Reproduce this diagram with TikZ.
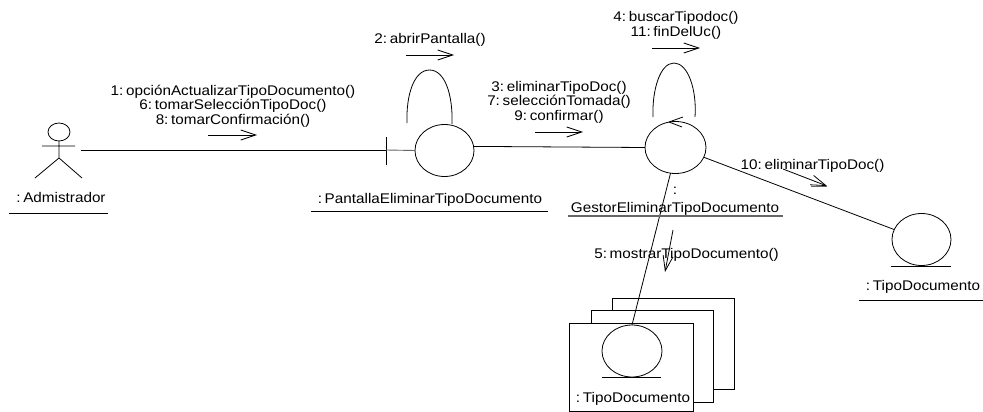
\documentclass[tikz,border=0pt]{standalone}
\usepackage{fontspec}
\setmainfont[FakeStretch=1.09,WordSpace=0.3]{Liberation Sans}
\usetikzlibrary{shapes.geometric,arrows.meta}
\tikzset{
  every node/.style={font=\fontsize{14}{14.6}\selectfont,inner sep=0pt,outer sep=0pt,align=center},
  obj/.style={draw=black,shape=ellipse,minimum width=59pt,minimum height=52pt,line width=0.8pt},
  ln/.style={draw=black,line width=0.8pt},
  rule/.style={draw=black,line width=0.8pt},
  msg/.style={draw=black,line width=0.8pt,line join=round,-{Straight Barb[length=15pt,width=10pt,line width=0.8pt]}},
  sheet/.style={draw=black,fill=white,line width=0.8pt}
}
\begin{document}
\begin{tikzpicture}[x=1pt,y=-1pt]
\useasboundingbox (0,0) rectangle (983,412);
% stacked multi-object sheets
\draw[sheet] (612,298) rectangle (734,389);
\draw[sheet] (591,310) rectangle (713,402);
\draw[sheet] (569,323) rectangle (693,411.5);
% actor
\node[draw=black,shape=ellipse,minimum width=22pt,minimum height=18pt,line width=0.8pt] (head) at (59,132) {};
\coordinate (neck) at (59,158);
\coordinate (armL) at (42,146);
\coordinate (armR) at (75,146);
\coordinate (legL) at (35,178);
\coordinate (legR) at (82,178);
\draw[ln] (head.south) -- (neck) (armL) -- (armR) (legL) -- (neck) -- (legR);
\node (adm) at (61,197) {: Admistrador};
\draw[rule] (9,213) -- (108,213);
% objects
\node[obj] (pant) at (444.5,150.5) {};
\node[obj,minimum width=61pt] (gest) at (675.5,147.5) {};
\node[obj] (ent) at (921.5,239.5) {};
\node[obj,minimum width=60pt] (multi) at (632,351) {};
\draw[rule] (891,266) -- (951,266);
\draw[rule] (602,377) -- (661,377);
% boundary tick
\coordinate (tickT) at (386,137);
\coordinate (tickB) at (386,165);
\coordinate (tickM) at (386,150);
\coordinate (actEnd) at (81,150);
\draw[ln] (tickT) -- (tickB);
% links
\draw[ln] (actEnd) -- (tickM);
\draw[draw=black!60,line width=0.9pt] (tickM) -- (pant.west);
\draw[ln] (pant.8) -- (gest.west);
\draw[ln] (gest.-19) -- (ent.160);
\draw[ln] (gest.-101) -- (multi.north);
% self loops
\coordinate (lpA) at (407,123);
\coordinate (lpB) at (429.5,70);
\coordinate (lpC) at (452,124);
\draw[ln] (lpA) .. controls (406,95) and (414,70) .. (lpB) .. controls (445,70) and (453,95) .. (lpC);
\coordinate (lgA) at (653,117);
\coordinate (lgB) at (674,63);
\coordinate (lgC) at (695,117);
\draw[ln] (lgA) .. controls (652,90) and (660,63) .. (lgB) .. controls (688,63) and (697,90) .. (lgC);
% open head on controller
\coordinate (hdA) at (683,117);
\coordinate (hdB) at (669,122);
\coordinate (hdC) at (682,127);
\draw[ln,line join=round] (hdA) -- (hdB) -- (hdC);
% message arrows
\coordinate (m1a) at (208,135); \coordinate (m1b) at (257,135);
\coordinate (m2a) at (406,55);  \coordinate (m2b) at (454,55);
\coordinate (m3a) at (535,132); \coordinate (m3b) at (583,132);
\coordinate (m4a) at (652,48);  \coordinate (m4b) at (700,48);
\coordinate (m10a) at (783,169); \coordinate (m10b) at (827,186);
\coordinate (m5a) at (673,230); \coordinate (m5b) at (665,272);
\draw[msg] (m1a) -- (m1b);
\draw[msg] (m2a) -- (m2b);
\draw[msg] (m3a) -- (m3b);
\draw[msg] (m4a) -- (m4b);
\draw[msg] (m10a) -- (m10b);
\draw[msg] (m5a) -- (m5b);
\draw[draw=black!60,line width=0.8pt] (811,186) -- (m10b);
% labels
\node (l1) at (233,106) {1: opciónActualizarTipoDocumento()\\6: tomarSelecciónTipoDoc()\\8: tomarConfirmación()};
\node (l2) at (430,39.5) {2: abrirPantalla()};
\node (l3) at (559,102) {3: eliminarTipoDoc()\\7: selecciónTomada()\\9: confirmar()};
\node (l4) at (676,25.5) {4: buscarTipodoc()\\11: finDelUc()};
\node (l10) at (812.5,165.5) {10: eliminarTipoDoc()};
\node (l5) at (686.5,254.5) {5: mostrarTipoDocumento()};
\node (lp) at (430,199.5) {: PantallaEliminarTipoDocumento};
\draw[rule] (311,211) -- (548,211);
\node (lg1) at (675,191) {:};
\node (lg) at (675,209) {GestorEliminarTipoDocumento};
\draw[draw=black!60,line width=1.4pt] (568,216) -- (783,216);
\node (le) at (923,287) {: TipoDocumento};
\draw[rule] (859,300) -- (983,300);
\node (lm) at (633,399) {: TipoDocumento};
\end{tikzpicture}
\end{document}
